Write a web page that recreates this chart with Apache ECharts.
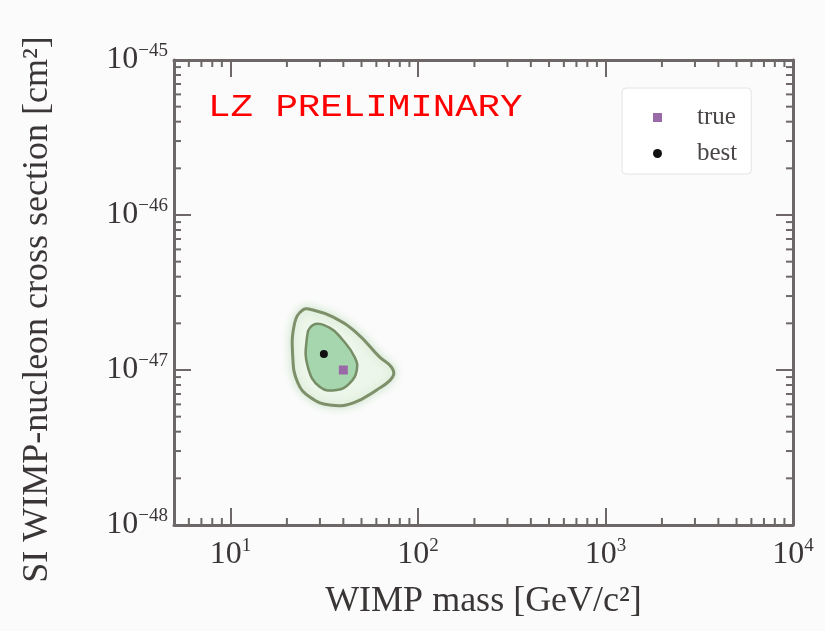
<!DOCTYPE html>
<html>
<head>
<meta charset="utf-8">
<title>WIMP mass vs SI cross section</title>
<script src="https://cdn.jsdelivr.net/npm/echarts@6/dist/echarts.min.js"></script>
<style>
  html, body { margin: 0; padding: 0; background: #fbfbfb; }
  #chart { width: 825px; height: 631px; }
</style>
</head>
<body>
<div id="chart"></div>
<script>
// Axis ranges (GeV/c^2 and cm^2)
const massRange = [5, 10000];
const sigmaRange = [0.99999e-48, 1e-45];

// Decade labels shown on each axis (exponents of 10)
const xTickExps = [1, 2, 3, 4];
const yTickExps = [-48, -47, -46, -45];

// Minor tick multipliers within a decade
const minorSteps = [2, 3, 4, 5, 6, 7, 8, 9];
const xDecades = [1, 10, 100, 1000];
const yDecades = [1e-48, 1e-47, 1e-46];

// Injected (true) and best-fit points: [mass, cross section]
const truePoint = [[40, 1.0e-47]];
const bestPoint = [[31.5, 1.27e-47]];

// Confidence contours: vertices as mass / cross-section pairs
const outerMass  = [24.3, 22.0, 21.5, 22.9, 26.5, 33.9, 44.9, 60.2, 73.3, 72.4, 62.5, 47.2, 35.1, 27.5];
const outerSigma = [2.44e-47, 2.01e-47, 1.21e-47, 8.24e-48, 6.70e-48, 5.94e-48, 6.12e-48, 7.43e-48, 9.02e-48, 1.04e-47, 1.21e-47, 1.73e-47, 2.20e-47, 2.44e-47];
const innerMass  = [27.5, 25.5, 25.9, 30.0, 36.9, 43.3, 47.2, 46.0, 39.7, 33.9];
const innerSigma = [1.95e-47, 1.56e-47, 1.04e-47, 7.76e-48, 7.43e-48, 8.24e-48, 1.0e-47, 1.21e-47, 1.56e-47, 1.87e-47];

const contours = [
  { mass: outerMass, sigma: outerSigma, fill: '#edf6ea', stroke: '#7d9069', width: 3, glow: 10 },
  { mass: innerMass, sigma: innerSigma, fill: '#a6d6ad', stroke: '#768d65', width: 2.5, glow: 0 }
];

const textColor = '#3a3636';
const frameColor = '#6d6767';
const serif = '"Liberation Serif", "Times New Roman", serif';

const minorX = [];
xDecades.forEach(d => minorSteps.forEach(k => {
  const v = k * d;
  if (v > massRange[0] && v < massRange[1]) minorX.push([v, sigmaRange[0]]);
}));
const minorY = [];
yDecades.forEach(d => minorSteps.forEach(k => {
  minorY.push([massRange[0], k * d]);
}));

function isDecade(v, exps) {
  const e = Math.log10(v);
  const r = Math.round(e);
  return Math.abs(e - r) < 1e-7 && exps.indexOf(r) >= 0 ? r : null;
}

const labelRich = {
  b: { fontSize: 32, fontFamily: serif, color: textColor, lineHeight: 36, verticalAlign: 'middle' },
  s: { fontSize: 19, fontFamily: serif, color: textColor, lineHeight: 16, verticalAlign: 'top' }
};

function xLabel(v) {
  const r = isDecade(v, xTickExps);
  return r === null ? '' : '{b|10}{s|' + r + '}';
}
function yLabel(v) {
  const r = isDecade(v, yTickExps);
  return r === null ? '' : '{b|10}{s|\u2212' + Math.abs(r) + '}';
}

function axisBase(min, max) {
  return {
    type: 'log',
    logBase: 10,
    min: min,
    max: max,
    nameMoveOverlap: false,
    axisLine: { show: true, onZero: false, lineStyle: { color: frameColor, width: 3 } },
    axisTick: { show: true, inside: true, length: 17, lineStyle: { color: frameColor, width: 2 } },
    minorTick: { show: false },
    splitLine: { show: false }
  };
}

const chart = echarts.init(document.getElementById('chart'), null, { renderer: 'canvas' });

const tickLen = 7;

chart.setOption({
  backgroundColor: '#fbfbfb',
  animation: false,
  grid: { left: 174, top: 60, width: 619, height: 465, containLabel: false, outerBoundsMode: 'none' },
  xAxis: [
    Object.assign(axisBase(massRange[0], massRange[1]), {
      position: 'bottom',
      axisLabel: { show: true, margin: 12, formatter: xLabel, rich: labelRich, showMinLabel: true, showMaxLabel: true, hideOverlap: false },
      name: 'WIMP mass [GeV/c\u00B2]',
      nameLocation: 'middle',
      nameGap: 59,
      nameTextStyle: { fontSize: 36, fontFamily: serif, color: textColor }
    }),
    Object.assign(axisBase(massRange[0], massRange[1]), {
      position: 'top',
      axisLabel: { show: false }
    })
  ],
  yAxis: [
    Object.assign(axisBase(sigmaRange[0], sigmaRange[1]), {
      position: 'left',
      axisLabel: { show: true, margin: 6, formatter: yLabel, rich: labelRich, showMinLabel: true, showMaxLabel: true, hideOverlap: false },
      name: 'SI WIMP-nucleon cross section [cm\u00B2]',
      nameLocation: 'middle',
      nameRotate: 90,
      nameGap: 118,
      nameTextStyle: { fontSize: 36, fontFamily: serif, color: textColor, padding: [0, 34, 0, 0] }
    }),
    Object.assign(axisBase(sigmaRange[0], sigmaRange[1]), {
      position: 'right',
      axisLabel: { show: false }
    })
  ],
  legend: {
    orient: 'vertical',
    left: 622,
    top: 88,
    padding: [17, 14, 8, 31],
    itemWidth: 9,
    itemHeight: 9,
    itemGap: 11,
    backgroundColor: '#ffffff',
    borderColor: '#e4e4e4',
    borderWidth: 1,
    borderRadius: 4,
    textStyle: { fontSize: 25, lineHeight: 24, fontFamily: serif, color: '#4a4646', padding: [0, 0, 0, 30] },
    data: ['true', 'best']
  },
  graphic: [
    {
      type: 'text',
      x: 208,
      y: 108,
      scaleX: 1.17,
      z: 10,
      style: {
        text: 'LZ PRELIMINARY',
        x: 0,
        y: 0,
        fill: '#ff0000',
        fontSize: 32,
        fontFamily: '"Courier New", Courier, "Liberation Mono", monospace',
        verticalAlign: 'middle',
        align: 'left'
      }
    }
  ],
  series: [
    {
      type: 'custom',
      name: 'contours',
      silent: true,
      z: 2,
      data: contours.map((c, i) => [c.mass[0], c.sigma[0], i]),
      renderItem: function (params, api) {
        const c = contours[api.value(2)];
        const pts = c.mass.map((m, j) => api.coord([m, c.sigma[j]]));
        return {
          type: 'polygon',
          shape: { points: pts, smooth: 0.45 },
          style: {
            fill: c.fill,
            stroke: c.stroke,
            lineWidth: c.width,
            shadowBlur: c.glow,
            shadowColor: 'rgba(150, 205, 150, 0.45)'
          }
        };
      }
    },
    {
      type: 'custom',
      name: 'minorX',
      silent: true,
      z: 3,
      data: minorX,
      renderItem: function (params, api) {
        const v = api.value(0);
        const b = api.coord([v, sigmaRange[0]]);
        const t = api.coord([v, sigmaRange[1]]);
        const style = { stroke: frameColor, lineWidth: 2 };
        return {
          type: 'group',
          children: [
            { type: 'line', shape: { x1: b[0], y1: b[1], x2: b[0], y2: b[1] - tickLen }, style: style },
            { type: 'line', shape: { x1: t[0], y1: t[1], x2: t[0], y2: t[1] + tickLen }, style: style }
          ]
        };
      }
    },
    {
      type: 'custom',
      name: 'minorY',
      silent: true,
      z: 3,
      data: minorY,
      renderItem: function (params, api) {
        const v = api.value(1);
        const l = api.coord([massRange[0], v]);
        const r = api.coord([massRange[1], v]);
        const style = { stroke: frameColor, lineWidth: 2 };
        return {
          type: 'group',
          children: [
            { type: 'line', shape: { x1: l[0], y1: l[1], x2: l[0] + tickLen, y2: l[1] }, style: style },
            { type: 'line', shape: { x1: r[0], y1: r[1], x2: r[0] - tickLen, y2: r[1] }, style: style }
          ]
        };
      }
    },
    {
      type: 'scatter',
      name: 'true',
      z: 5,
      symbol: 'rect',
      symbolSize: 9,
      itemStyle: { color: '#9a6aa8', opacity: 1 },
      data: truePoint
    },
    {
      type: 'scatter',
      name: 'best',
      z: 5,
      symbol: 'circle',
      symbolSize: 8,
      itemStyle: { color: '#111111', opacity: 1 },
      data: bestPoint
    }
  ]
});
</script>
</body>
</html>
